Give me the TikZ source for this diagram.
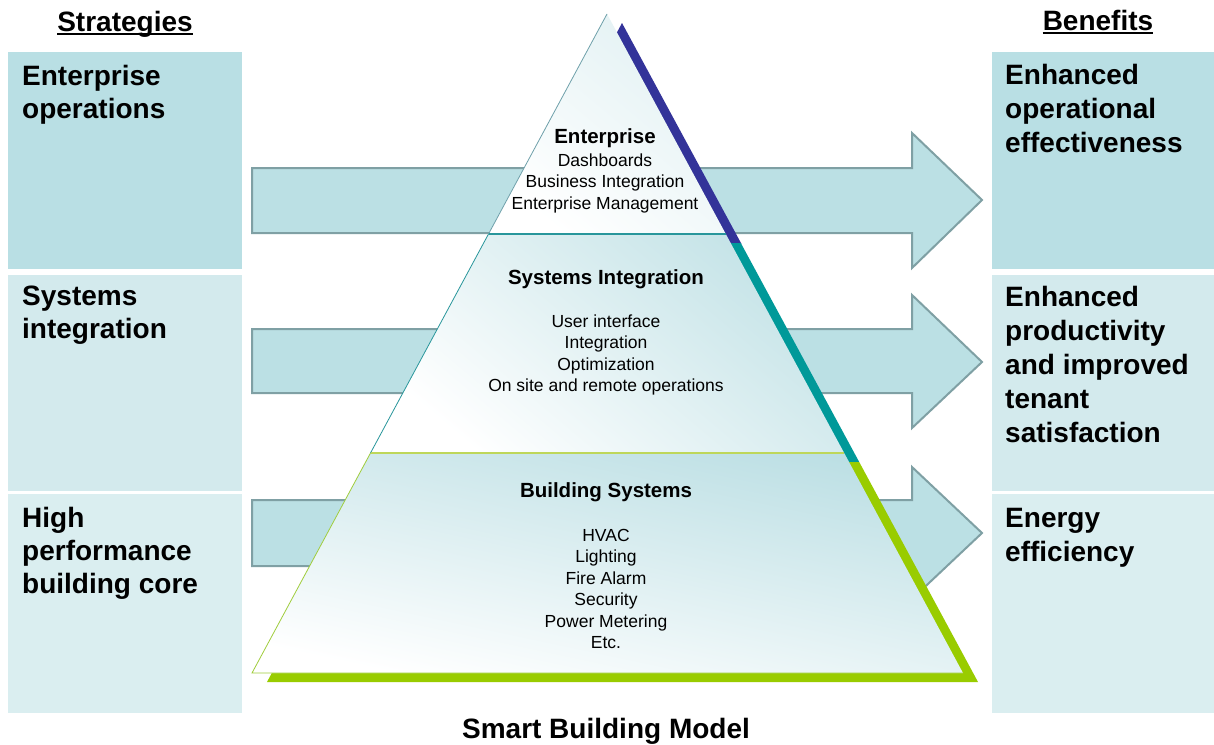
\documentclass[tikz,border=0pt]{standalone}
\usepackage{fontspec}
\setmainfont{Liberation Sans}
\definecolor{boxA}{RGB}{185,223,228}
\definecolor{boxB}{RGB}{211,234,237}
\definecolor{boxC}{RGB}{218,238,240}
\definecolor{arrowfill}{RGB}{187,224,228}
\definecolor{arrowline}{RGB}{127,160,164}
\definecolor{sblue}{RGB}{51,51,153}
\definecolor{steal}{RGB}{0,153,153}
\definecolor{sgreen}{RGB}{153,204,0}
\definecolor{shadeA}{RGB}{226,241,243}
\definecolor{shadeB}{RGB}{196,227,231}
\definecolor{shadeC}{RGB}{188,223,228}
\definecolor{edgeA}{RGB}{110,160,170}
\definecolor{edgeB}{RGB}{40,150,155}
\definecolor{edgeC}{RGB}{160,205,60}
\definecolor{divB}{RGB}{190,215,90}
\begin{document}
\begin{tikzpicture}[x=1pt,y=-1pt,
  bigL/.style={font=\fontsize{28}{33}\selectfont\bfseries, inner sep=0pt, align=left, anchor=base west},
  bigR/.style={font=\fontsize{28}{34}\selectfont\bfseries, inner sep=0pt, align=left, anchor=base west},
  head/.style={font=\fontsize{28}{34}\selectfont\bfseries, inner sep=0pt, anchor=base},
  ptitle/.style={font=\fontsize{20.5}{24}\selectfont\bfseries, inner sep=0pt, anchor=base},
  plist/.style={font=\fontsize{17.5}{21.5}\selectfont, inner sep=0pt, anchor=base, align=center},
  arrowshape/.style={fill=arrowfill, draw=arrowline, line width=2pt, line join=miter},
  tier/.style={top color=#1, bottom color=white, shading angle=-40},
]
\useasboundingbox (0,0) rectangle (1214,744);
\fill[white] (0,0) rectangle (1214,744);

% strategy boxes
\fill[boxA] (8,52) rectangle (242,269);
\fill[boxB] (8,275) rectangle (242,491);
\fill[boxC] (8,494) rectangle (242,713);
% benefit boxes
\fill[boxA] (992,52) rectangle (1214,269);
\fill[boxB] (992,275) rectangle (1214,491);
\fill[boxC] (992,494) rectangle (1214,713);

% arrows
\draw[arrowshape] (252,168) -- (912,168) -- (912,133) -- (982,200) -- (912,268) -- (912,233) -- (252,233) -- cycle;
\draw[arrowshape] (252,329) -- (912,329) -- (912,295) -- (982,362) -- (912,428) -- (912,393) -- (252,393) -- cycle;
\draw[arrowshape] (252,500) -- (912,500) -- (912,467) -- (982,533) -- (912,599) -- (912,566) -- (252,566) -- cycle;

% pyramid coordinates
\coordinate (A) at (607,14);
\coordinate (L1) at (488.5,234);
\coordinate (R1) at (725.8,234);
\coordinate (L2) at (370.5,453);
\coordinate (R2) at (844.2,453);
\coordinate (BL) at (252,673);
\coordinate (BR) at (963,673);

% shadow tiers
\fill[sblue] (622,23) -- (741.5,244) -- (503.5,244) -- cycle;
\fill[steal] (503.5,243) -- (740.8,243) -- (859.2,462) -- (385.5,462) -- cycle;
\fill[sgreen] (385.5,462) -- (859.2,462) -- (978,682) -- (267,682) -- cycle;

% pyramid tiers
\shade[tier=shadeA] (A) -- (R1) -- (L1) -- cycle;
\shade[tier=shadeB] (L1) -- (R1) -- (R2) -- (L2) -- cycle;
\shade[tier=shadeC, shading angle=-12] (L2) -- (R2) -- (BR) -- (BL) -- cycle;

% tier edges
\draw[edgeA, line width=0.8pt] (A) -- (L1);
\draw[edgeB, line width=1.4pt] (L1) -- (R1);
\draw[edgeB, line width=0.8pt] (L1) -- (L2);
\draw[divB, line width=1.4pt] (L2) -- (R2);
\draw[edgeC, line width=0.8pt] (L2) -- (BL) -- (BR);

% headings
\node[head] (strat) at (125,31) {Strategies};
\node[head] (bene) at (1098,30) {Benefits};
\draw[line width=2pt] ([yshift=-3pt]strat.base west) -- ([yshift=-3pt]strat.base east);
\draw[line width=2pt] ([yshift=-3pt]bene.base west) -- ([yshift=-3pt]bene.base east);

% strategies (base anchor = last line baseline)
\node[bigL] (s1) at (22,118) {Enterprise\\operations};
\node[bigL] (s2) at (22,338) {Systems\\integration};
\node[bigL] (s3) at (22,593) {High\\performance\\building core};

% benefits
\node[bigR] (b1) at (1005,152) {Enhanced\\operational\\effectiveness};
\node[bigR] (b2) at (1005,442) {Enhanced\\productivity\\and improved\\tenant\\satisfaction};
\node[bigR] (b3) at (1005,561) {Energy\\efficiency};

% pyramid texts
\node[ptitle] (t1) at (605,143) {Enterprise};
\node[plist] (l1) at (605,209) {Dashboards\\Business Integration\\Enterprise Management};
\node[ptitle] (t2) at (606,284) {Systems Integration};
\node[plist] (l2) at (606,391.5) {User interface\\Integration\\Optimization\\On site and remote operations};
\node[ptitle] (t3) at (606,497) {Building Systems};
\node[plist] (l3) at (606,648.5) {HVAC\\Lighting\\Fire Alarm\\Security\\Power Metering\\Etc.};

% caption
\node[head] (title) at (606,738) {Smart Building Model};
\end{tikzpicture}
\end{document}
